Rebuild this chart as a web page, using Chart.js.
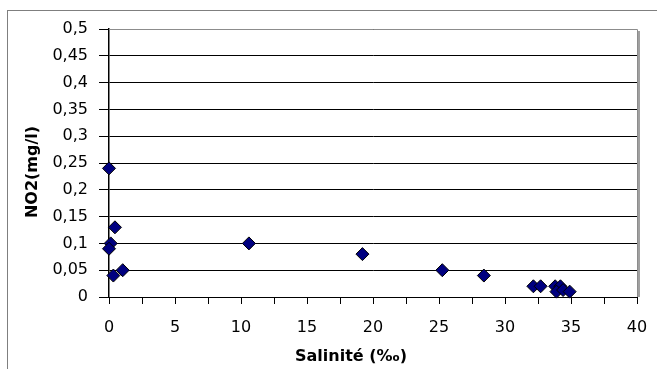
<!DOCTYPE html>
<html>
<head>
<meta charset="utf-8">
<script src="https://cdn.jsdelivr.net/npm/chart.js@4/dist/chart.umd.min.js"></script>
<style>
  body { margin: 0; background: #fff; overflow: hidden; }
  #box { position: relative; width: 657px; height: 369px; }
</style>
</head>
<body>
<div id="box"><canvas id="graph"></canvas></div>
<script>
// salinité (‰) et NO2 (mg/l) par station
var salinite = [0, 0.45, 0.13, 0, 0.33, 1.04, 10.6, 19.2, 25.25, 28.4, 32.15, 32.7, 33.8, 34.2, 33.9, 34.4, 34.9];
var no2      = [0.24, 0.13, 0.10, 0.09, 0.04, 0.05, 0.10, 0.08, 0.05, 0.04, 0.02, 0.02, 0.02, 0.02, 0.01, 0.013, 0.01];

var xTitre = 'Salinité (‰)';
var yTitre = 'NO2(mg/l)';
var xMax = 40, xPas = 2.5;
var yMax = 0.5, yPas = 0.05;

var points = salinite.map(function (s, i) { return { x: s, y: no2[i] }; });

function virgule(v) {
    return String(+v.toFixed(2)).replace('.', ',');
}

// cadre du graphique, bord de la zone de tracé et titres des axes
var decor = {
    id: 'decor',
    beforeDraw: function (chart) {
        var ctx = chart.ctx;
        ctx.save();
        ctx.strokeStyle = '#7f7f7f';
        ctx.lineWidth = 1;
        ctx.strokeRect(7.5, 10.5, 800, 500);
        ctx.restore();
    },
    beforeDatasetsDraw: function (chart) {
        var a = chart.chartArea, ctx = chart.ctx;
        ctx.save();
        ctx.strokeStyle = '#8c8c8c';
        ctx.lineWidth = 1;
        ctx.beginPath();
        ctx.moveTo(a.left, a.top + 0.5);
        ctx.lineTo(a.right + 0.5, a.top + 0.5);
        ctx.lineTo(a.right + 0.5, a.bottom);
        ctx.stroke();
        ctx.strokeStyle = '#a0a0a0';
        ctx.lineWidth = 2;
        ctx.beginPath();
        ctx.moveTo(a.right + 2, a.top + 2);
        ctx.lineTo(a.right + 2, a.bottom);
        ctx.stroke();
        ctx.restore();
    },
    afterDraw: function (chart) {
        var ctx = chart.ctx;
        ctx.save();
        ctx.fillStyle = '#000';
        ctx.font = 'bold 16px "DejaVu Sans"';
        ctx.textAlign = 'center';
        ctx.textBaseline = 'middle';
        ctx.fillText(xTitre, 351, 357);
        ctx.translate(33, 172);
        ctx.rotate(-Math.PI / 2);
        ctx.fillText(yTitre, 0, 0);
        ctx.restore();
    }
};

var ctx = document.getElementById('graph').getContext('2d');
var myChart = new Chart(ctx, {
    type: 'scatter',
    data: {
        datasets: [{
            label: yTitre,
            data: points,
            clip: false,
            pointStyle: 'rectRot',
            pointRadius: 6.5,
            pointHoverRadius: 6.5,
            backgroundColor: '#000080',
            borderColor: '#000000',
            borderWidth: 1
        }]
    },
    options: {
        responsive: true,
        maintainAspectRatio: false,
        animation: false,
        layout: { padding: { top: 29, right: 20, left: 0, bottom: 0 } },
        plugins: {
            legend: { display: false },
            tooltip: { enabled: false }
        },
        scales: {
            x: {
                type: 'linear',
                min: 0,
                max: xMax,
                afterFit: function (scale) {
                    scale.height = 72;
                    scale.paddingLeft = 0;
                    scale.paddingRight = 0;
                },
                ticks: {
                    stepSize: xPas,
                    padding: 14,
                    color: '#000',
                    font: { family: 'DejaVu Sans', size: 16 },
                    maxRotation: 0,
                    autoSkip: false,
                    callback: function (v) { return v % 5 === 0 ? virgule(v) : ''; }
                },
                grid: {
                    drawOnChartArea: false,
                    drawTicks: true,
                    tickLength: 7,
                    color: '#000'
                },
                border: { color: '#000', width: 1 }
            },
            y: {
                min: 0,
                max: yMax,
                afterFit: function (scale) { scale.width = 109; },
                ticks: {
                    stepSize: yPas,
                    padding: 11,
                    color: '#000',
                    font: { family: 'DejaVu Sans', size: 16 },
                    callback: function (v) { return virgule(v); }
                },
                grid: {
                    color: '#000',
                    lineWidth: 1,
                    tickLength: 10
                },
                border: { color: '#000', width: 1.5 }
            }
        }
    },
    plugins: [decor]
});
</script>
</body>
</html>
